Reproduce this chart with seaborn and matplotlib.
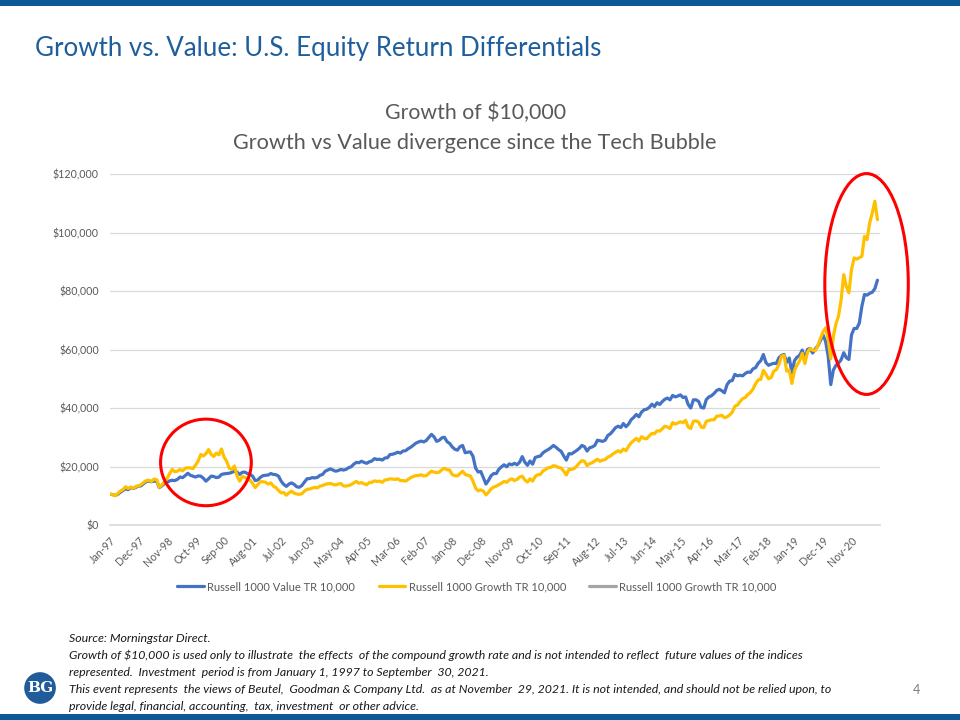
import matplotlib
matplotlib.use("Agg")
import matplotlib.pyplot as plt
from matplotlib.patches import Ellipse, Rectangle
from matplotlib.ticker import FuncFormatter
import numpy as np
import pandas as pd
import seaborn as sns

# growth of $10,000, month by month, in thousands of dollars (Jan-97 .. Sep-21)
value_k = [
    10.5, 10.4, 10.1, 10.5, 11.2, 11.8, 12.4, 12.1, 12.8, 12.5, 12.9, 13.3,  # 1997
    13.4, 14.2, 14.9, 15.0, 14.8, 15.0, 15.0, 12.8, 13.4, 14.2, 14.6, 15.1,  # 1998
    15.3, 15.2, 15.6, 16.4, 16.2, 16.9, 17.7, 17.0, 16.7, 16.4, 16.8, 16.7,  # 1999
    16.0, 15.0, 15.8, 16.7, 16.6, 16.2, 16.4, 17.3, 17.5, 17.6, 17.7, 18.0,  # 2000
    18.4, 18.1, 17.3, 18.0, 18.1, 17.6, 17.3, 16.7, 15.2, 15.4, 16.3, 16.9,  # 2001
    17.0, 17.1, 17.6, 17.3, 17.2, 16.7, 15.0, 13.9, 13.2, 14.0, 14.4, 13.9,  # 2002
    13.1, 12.9, 13.5, 14.7, 15.8, 15.9, 16.2, 16.1, 16.3, 17.0, 17.3, 18.4,  # 2003
    18.8, 19.2, 18.8, 18.4, 18.6, 19.0, 18.8, 19.0, 19.6, 19.9, 20.8, 21.4,  # 2004
    21.3, 21.8, 21.4, 21.1, 21.6, 21.9, 22.7, 22.4, 22.5, 22.2, 22.9, 23.0,  # 2005
    24.1, 24.2, 24.5, 24.9, 24.6, 25.3, 25.4, 26.1, 26.6, 27.3, 28.0, 28.4,  # 2006
    28.7, 28.4, 28.9, 30.0, 31.0, 30.1, 28.6, 29.0, 29.8, 30.0, 28.5, 27.9,  # 2007
    26.7, 25.9, 25.6, 26.8, 27.2, 24.7, 24.9, 25.0, 23.5, 19.5, 18.1, 18.3,  # 2008
    16.2, 14.0, 15.3, 16.9, 17.6, 17.6, 19.1, 19.9, 20.6, 19.9, 20.9, 20.6,  # 2009
    21.1, 20.6, 21.5, 23.4, 21.5, 20.4, 21.9, 20.8, 23.1, 23.4, 23.6, 24.7,  # 2010
    25.3, 25.8, 26.4, 27.2, 26.6, 25.8, 25.2, 23.6, 22.2, 24.4, 24.3, 24.9,  # 2011
    25.5, 26.2, 27.2, 26.8, 25.3, 26.4, 26.7, 27.2, 29.0, 28.8, 28.6, 29.0,  # 2012
    30.6, 31.2, 32.2, 33.3, 33.8, 33.3, 34.7, 33.6, 34.5, 36.0, 36.8, 37.8,  # 2013
    37.0, 38.6, 39.4, 39.6, 40.2, 41.3, 40.5, 41.8, 41.2, 42.2, 43.0, 43.4,  # 2014
    42.8, 44.3, 43.8, 44.1, 44.5, 43.6, 43.8, 41.2, 40.0, 42.8, 42.8, 42.3,  # 2015
    40.2, 40.0, 42.9, 43.8, 44.2, 45.0, 46.0, 46.4, 45.9, 45.2, 48.0, 49.2,  # 2016
    49.4, 51.5, 51.0, 51.2, 51.0, 51.8, 52.3, 52.2, 53.4, 53.8, 55.3, 56.2,  # 2017
    58.3, 55.5, 54.6, 55.0, 55.3, 55.2, 57.2, 58.0, 58.3, 55.6, 57.1, 52.0,  # 2018
    56.2, 57.4, 58.0, 59.8, 56.6, 60.0, 60.4, 58.8, 60.2, 61.2, 63.0, 65.0,  # 2019
    62.8, 57.7, 48.0, 53.0, 54.6, 55.4, 56.5, 58.9, 57.2, 56.6, 65.0, 67.2,  # 2020
    67.2, 69.0, 74.8, 78.8, 78.6, 79.2, 79.6, 80.8, 83.7,                    # 2021
]

growth_k = [
    10.6, 10.4, 10.0, 10.8, 11.6, 12.1, 13.1, 12.5, 13.0, 12.6, 13.2, 13.4,  # 1997
    13.8, 14.6, 15.2, 15.3, 14.9, 15.7, 15.5, 12.9, 13.7, 14.8, 15.9, 17.6,  # 1998
    19.0, 18.2, 18.4, 19.0, 18.5, 19.4, 19.6, 19.5, 19.3, 20.5, 21.9, 24.1,  # 1999
    23.6, 24.4, 25.8, 24.2, 23.4, 24.6, 24.0, 26.0, 23.2, 21.8, 19.4, 19.0,  # 2000
    20.2, 16.8, 15.0, 16.6, 16.3, 15.8, 15.4, 14.2, 12.8, 13.8, 14.8, 14.8,  # 2001
    14.6, 14.0, 14.4, 13.3, 12.8, 11.8, 11.0, 11.1, 10.2, 11.0, 11.6, 10.9,  # 2002
    10.6, 10.5, 10.7, 11.6, 12.2, 12.3, 12.6, 12.9, 12.7, 13.3, 13.5, 13.9,  # 2003
    14.1, 14.2, 13.9, 13.7, 14.0, 14.2, 13.4, 13.3, 13.5, 13.8, 14.4, 14.9,  # 2004
    14.3, 14.5, 14.1, 13.8, 14.5, 14.6, 15.1, 14.9, 15.0, 14.6, 15.4, 15.5,  # 2005
    15.8, 15.7, 15.6, 15.8, 15.2, 15.2, 15.0, 15.6, 16.2, 16.6, 16.9, 16.9,  # 2006
    17.2, 16.8, 16.9, 17.7, 18.4, 18.1, 17.9, 18.1, 18.9, 19.4, 18.9, 18.8,  # 2007
    17.2, 16.9, 16.8, 17.6, 18.4, 17.3, 17.0, 16.8, 15.0, 12.6, 11.7, 12.0,  # 2008
    11.6, 10.3, 11.2, 12.4, 13.0, 13.3, 13.8, 14.3, 14.9, 14.6, 15.4, 15.8,  # 2009
    15.2, 15.6, 16.4, 16.7, 15.4, 14.7, 15.8, 15.0, 16.6, 17.2, 17.3, 18.5,  # 2010
    19.0, 19.6, 19.7, 20.3, 20.1, 19.7, 19.5, 18.4, 17.1, 19.0, 19.0, 19.3,  # 2011
    20.1, 21.2, 22.0, 21.8, 20.3, 21.0, 21.3, 21.9, 22.5, 21.8, 22.2, 22.4,  # 2012
    23.2, 23.6, 24.3, 24.9, 25.4, 24.9, 26.0, 25.4, 26.9, 28.1, 28.9, 29.6,  # 2013
    28.7, 30.2, 29.6, 29.5, 30.5, 31.3, 31.2, 32.2, 32.1, 32.9, 33.8, 33.5,  # 2014
    33.0, 35.0, 34.5, 34.9, 35.3, 35.0, 35.8, 33.5, 33.0, 35.5, 35.6, 35.2,  # 2015
    33.5, 33.3, 35.5, 35.7, 36.0, 36.0, 37.2, 37.3, 37.5, 36.7, 37.0, 37.6,  # 2016
    38.6, 40.6, 41.0, 42.2, 43.2, 43.6, 44.6, 45.3, 46.5, 48.3, 49.6, 49.8,  # 2017
    52.9, 51.5, 50.0, 50.4, 52.6, 53.1, 54.9, 57.7, 58.0, 52.6, 52.9, 48.4,  # 2018
    52.8, 54.7, 56.2, 58.7, 55.2, 59.0, 60.3, 59.8, 59.6, 61.2, 63.8, 66.0,  # 2019
    67.4, 63.4, 56.8, 64.6, 68.8, 71.5, 77.0, 85.6, 81.5, 79.4, 87.3, 91.3,  # 2020
    90.9, 91.4, 91.9, 98.7, 97.6, 103.3, 106.7, 110.7, 104.4,                # 2021
]

series_names = ["Russell 1000 Value TR 10,000",
                "Russell 1000 Growth TR 10,000",
                "Russell 1000 Growth TR 10,000"]
series_colors = ["#4472C4", "#FFC000", "#A5A5A5"]

months = pd.date_range("1997-01-01", periods=len(value_k), freq="MS")
month_labels = list(months.strftime("%b-%y"))
label_step = 11

df = pd.DataFrame({
    "idx": np.arange(len(months)),
    "value": np.array(value_k) * 1000,
    "growth": np.array(growth_k) * 1000,
})

sns.set_theme(style="white")
plt.rcParams["font.family"] = ["Lato", "DejaVu Sans"]

grey_txt = "#595959"
navy = "#0D5896"

fig = plt.figure(figsize=(9.6, 7.2), dpi=100)
ax = fig.add_axes([0.1146, 0.2708, 0.8021, 0.4875])

sns.lineplot(data=df, x="idx", y="value", ax=ax, color=series_colors[0], lw=2.3, label=series_names[0])
sns.lineplot(data=df, x="idx", y="growth", ax=ax, color=series_colors[1], lw=2.3, label=series_names[1])
ax.plot([], [], color=series_colors[2], lw=2.3, label=series_names[2])

ax.set_xlim(0, len(months))
ax.set_ylim(0, 120000)
ax.set_yticks(np.arange(0, 120001, 20000))
ax.yaxis.set_major_formatter(FuncFormatter(lambda v, p: f"\\${v:,.0f}"))
ax.grid(axis="y", color="#D9D9D9", lw=0.9)
ax.set_axisbelow(True)

tick_pos = list(range(0, len(months) + 1, label_step))
ax.set_xticks(tick_pos)
ax.set_xticklabels([month_labels[i] if i < len(months) else "" for i in tick_pos],
                   rotation=45, ha="right", va="top", rotation_mode="anchor")
ax.tick_params(axis="x", length=4, color="#D9D9D9", labelsize=7.7, labelcolor=grey_txt, pad=3)
ax.tick_params(axis="y", length=0, labelsize=7.7, labelcolor=grey_txt, pad=8)
ax.set_xlabel("")
ax.set_ylabel("")
for s in ["top", "right", "left"]:
    ax.spines[s].set_visible(False)
ax.spines["bottom"].set_color("#D9D9D9")

# highlight circles
ax.add_patch(Ellipse((37, 21400), 35, 29600, fill=False, ec="#FF0000", lw=2.2, clip_on=False, zorder=5))
ax.add_patch(Ellipse((291.8, 82400), 32.2, 75500, fill=False, ec="#FF0000", lw=2.2, clip_on=False, zorder=5))

handles, labels = ax.get_legend_handles_labels()
if ax.get_legend() is not None:
    ax.get_legend().remove()
fig.legend(handles, labels, loc="center", bbox_to_anchor=(0.497, 0.185), ncol=3, frameon=False,
           fontsize=8, handlelength=2.4, columnspacing=2.1, handletextpad=0.3,
           labelcolor=grey_txt)

# chart titles
fig.text(0.495, 0.843, "Growth of \\$10,000", ha="center", va="center", fontsize=15.3, color=grey_txt)
fig.text(0.495, 0.801, "Growth vs Value divergence since the Tech Bubble", ha="center", va="center",
         fontsize=15.6, color=grey_txt)

# slide frame
fig.add_artist(Rectangle((0, 0.9917), 1, 0.0083, transform=fig.transFigure, color=navy, lw=0))
fig.add_artist(Rectangle((0, 0), 1, 0.009, transform=fig.transFigure, color=navy, lw=0))
fig.text(0.036, 0.933, "Growth vs. Value: U.S. Equity Return Differentials", ha="left", va="center",
         fontsize=18.6, color="#1F5E9C")

footer = [
    "Source: Morningstar Direct.",
    "Growth of \\$10,000 is used only to illustrate  the effects  of the compound growth rate and is not intended to reflect  future values of the indices",
    "represented.  Investment  period is from January 1, 1997 to September  30, 2021.",
    "This event represents  the views of Beutel,  Goodman & Company Ltd.  as at November  29, 2021. It is not intended, and should not be relied upon, to",
    "provide legal, financial, accounting,  tax, investment  or other advice.",
]
for i, line in enumerate(footer):
    fig.text(0.072, 1 - (638 + i * 17.2) / 720, line, ha="left", va="center", fontsize=8.9,
             style="italic", color="#1a1a1a")

# logo
fig.add_artist(Ellipse((0.0417, 1 - 688 / 720), 0.033, 0.033 * 960 / 720,
                       transform=fig.transFigure, color="#1F5C99", lw=0))
fig.text(0.0417, 1 - 688 / 720, "BG", ha="center", va="center", fontsize=11, color="white",
         family="DejaVu Serif", weight="bold")
fig.text(0.955, 1 - 690 / 720, "4", ha="center", va="center", fontsize=9, color="#7F7F7F")

fig.savefig("out.png", dpi=100)
